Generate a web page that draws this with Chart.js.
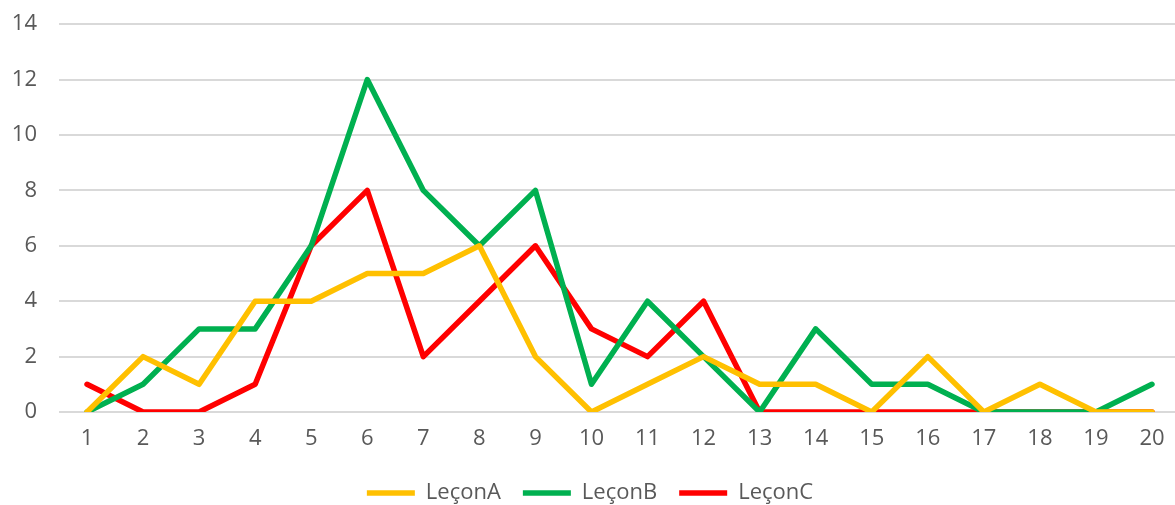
<!DOCTYPE html>
<html>
<head>
<meta charset="utf-8">
<script src="https://cdn.jsdelivr.net/npm/chart.js@4.4.1/dist/chart.umd.min.js"></script>
<style>
  html, body { margin: 0; padding: 0; background: #fff; overflow: hidden; }
  #wrap { width: 1180px; height: 527px; position: relative; margin-top: -11px; }
</style>
</head>
<body>
<div id="wrap"><canvas id="chart"></canvas></div>
<script>
// ===============================
// DATA
// ===============================
const lessons = ["1","2","3","4","5","6","7","8","9","10","11","12","13","14","15","16","17","18","19","20"];
const leconA = [0, 2, 1, 4, 4, 5, 5, 6, 2, 0, 1, 2, 1, 1, 0, 2, 0, 1, 0, 0];
const leconB = [0, 1, 3, 3, 6, 12, 8, 6, 8, 1, 4, 2, 0, 3, 1, 1, 0, 0, 0, 1];
const leconC = [1, 0, 0, 1, 6, 8, 2, 4, 6, 3, 2, 4, 0, 0, 0, 0, 0, 0, 0, 0];
const yTicks = [0, 2, 4, 6, 8, 10, 12, 14];

const FONT = "'Open Sans', sans-serif";
const GREY = "#595959";

function line(label, data, color) {
    return {
        label: label,
        data: data,
        borderColor: color,
        backgroundColor: color,
        borderWidth: 5.5,
        borderCapStyle: "round",
        borderJoinStyle: "round",
        pointRadius: 0,
        pointHoverRadius: 0,
        tension: 0,
        fill: false
    };
}

const ctx = document.getElementById("chart");

new Chart(ctx, {
    type: "line",
    data: {
        labels: lessons,
        datasets: [
            line("LeçonA", leconA, "#FFC000"),
            line("LeçonB", leconB, "#00B050"),
            line("LeçonC", leconC, "#FF0000")
        ]
    },
    options: {
        responsive: true,
        maintainAspectRatio: false,
        animation: false,
        layout: { padding: { top: 12, right: 0, bottom: 2, left: 0 } },
        plugins: {
            tooltip: { enabled: false },
            legend: {
                position: "bottom",
                labels: {
                    usePointStyle: true,
                    pointStyle: "line",
                    pointStyleWidth: 48,
                    padding: 22,
                    color: GREY,
                    font: { family: FONT, size: 22 }
                }
            }
        },
        scales: {
            x: {
                offset: true,
                grid: { display: false, drawTicks: false },
                border: { display: false },
                ticks: {
                    color: GREY,
                    padding: 14,
                    maxRotation: 0,
                    autoSkip: false,
                    font: { family: FONT, size: 22 }
                },
                afterFit: (scale) => { scale.height = 48; }
            },
            y: {
                min: 0,
                max: 14,
                afterBuildTicks: (scale) => {
                    scale.ticks = yTicks.map(v => ({ value: v }));
                },
                grid: { color: "#D9D9D9", lineWidth: 2, drawTicks: false },
                border: { display: false },
                ticks: {
                    color: GREY,
                    padding: 22,
                    font: { family: FONT, size: 22 }
                },
                afterFit: (scale) => { scale.width = 59; }
            }
        }
    }
});
</script>
</body>
</html>
